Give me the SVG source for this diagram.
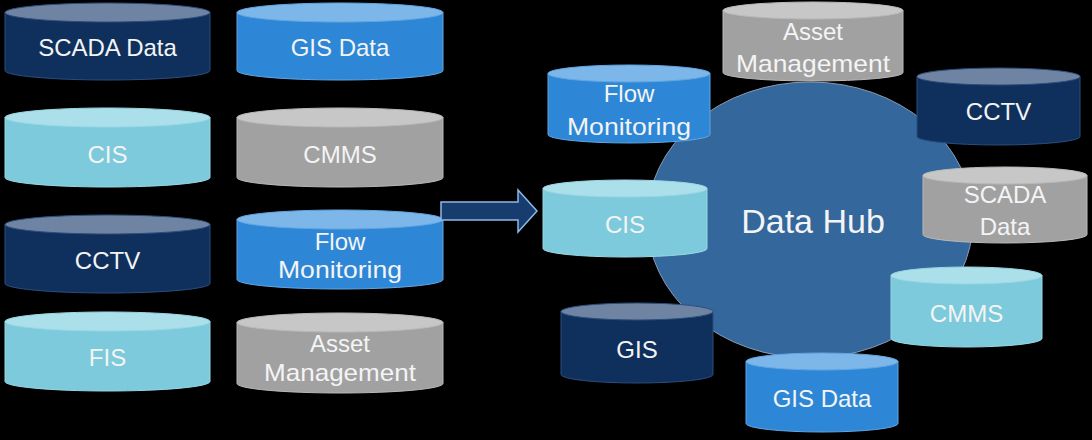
<svg xmlns="http://www.w3.org/2000/svg" width="1092" height="440" viewBox="0 0 1092 440">
<style>
.navy .b{fill:#0f305c;stroke:#2b4e7e;stroke-width:1}
.navy .t{fill:#6f84a3;stroke:#2b4e7e;stroke-width:1}
.blue .b{fill:#2d87d6;stroke:#62a6e2;stroke-width:1}
.blue .t{fill:#7db7ea;stroke:#62a6e2;stroke-width:1}
.cyan .b{fill:#7ccadb;stroke:#9ad8e5;stroke-width:1}
.cyan .t{fill:#abdfea;stroke:#9ad8e5;stroke-width:1}
.gray .b{fill:#a1a1a1;stroke:#b9b9b9;stroke-width:1}
.gray .t{fill:#c7c7c7;stroke:#b9b9b9;stroke-width:1}
text{font-family:"Liberation Sans",Arial,sans-serif;font-size:24px;fill:#f4f4f4;text-anchor:middle}
.hubtxt{font-size:34px}
</style>
<rect x="0" y="0" width="1092" height="440" fill="#000"/>

<g id="hub">
<ellipse cx="810" cy="220" rx="163" ry="138" fill="#34679c" stroke="#8a9bb0" stroke-width="1"/>
<text class="hubtxt" x="813" y="233">Data Hub</text>
</g>

<!-- left side -->
<g id="l-scada" class="navy">
<path class="b" d="M5,12.5 V70.5 A102.5,9.5 0 0 0 210,70.5 V12.5 Z"/>
<ellipse class="t" cx="107.5" cy="12.5" rx="102.5" ry="9.5"/>
<text x="107.5" y="56">SCADA Data</text>
</g>
<g id="l-gisdata" class="blue">
<path class="b" d="M237,12.5 V70.5 A103,9.5 0 0 0 443,70.5 V12.5 Z"/>
<ellipse class="t" cx="340" cy="12.5" rx="103" ry="9.5"/>
<text x="340" y="56">GIS Data</text>
</g>
<g id="l-cis" class="cyan">
<path class="b" d="M5,117.5 V177.5 A102.5,9.5 0 0 0 210,177.5 V117.5 Z"/>
<ellipse class="t" cx="107.5" cy="117.5" rx="102.5" ry="9.5"/>
<text x="107.5" y="163">CIS</text>
</g>
<g id="l-cmms" class="gray">
<path class="b" d="M237,117.5 V177.5 A103,9.5 0 0 0 443,177.5 V117.5 Z"/>
<ellipse class="t" cx="340" cy="117.5" rx="103" ry="9.5"/>
<text x="340" y="163">CMMS</text>
</g>
<g id="l-cctv" class="navy">
<path class="b" d="M5,224.5 V283.5 A102.5,9.5 0 0 0 210,283.5 V224.5 Z"/>
<ellipse class="t" cx="107.5" cy="224.5" rx="102.5" ry="9.5"/>
<text x="107.5" y="269">CCTV</text>
</g>
<g id="l-flow" class="blue">
<path class="b" d="M237,219.5 V279.5 A103,9.5 0 0 0 443,279.5 V219.5 Z"/>
<ellipse class="t" cx="340" cy="219.5" rx="103" ry="9.5"/>
<text x="340" y="250">Flow</text>
<text x="340" y="278" textLength="124" lengthAdjust="spacingAndGlyphs">Monitoring</text>
</g>
<g id="l-fis" class="cyan">
<path class="b" d="M5,321.5 V381.5 A102.5,9.5 0 0 0 210,381.5 V321.5 Z"/>
<ellipse class="t" cx="107.5" cy="321.5" rx="102.5" ry="9.5"/>
<text x="107.5" y="366">FIS</text>
</g>
<g id="l-asset" class="gray">
<path class="b" d="M237,322.5 V383.5 A103,9.5 0 0 0 443,383.5 V322.5 Z"/>
<ellipse class="t" cx="340" cy="322.5" rx="103" ry="9.5"/>
<text x="340" y="352">Asset</text>
<text x="340" y="381" textLength="152" lengthAdjust="spacingAndGlyphs">Management</text>
</g>

<!-- right side -->
<g id="r-asset" class="gray">
<path class="b" d="M723,10.5 V72.5 A90,8.5 0 0 0 903,72.5 V10.5 Z"/>
<ellipse class="t" cx="813" cy="10.5" rx="90" ry="8.5"/>
<text x="813" y="40">Asset</text>
<text x="813" y="72" textLength="154" lengthAdjust="spacingAndGlyphs">Management</text>
</g>
<g id="r-cctv" class="navy">
<path class="b" d="M917,76.5 V136.5 A81.5,8.5 0 0 0 1080,136.5 V76.5 Z"/>
<ellipse class="t" cx="998.5" cy="76.5" rx="81.5" ry="8.5"/>
<text x="998.5" y="120">CCTV</text>
</g>
<g id="r-scada" class="gray">
<path class="b" d="M923,175.5 V234.5 A82,8.5 0 0 0 1087,234.5 V175.5 Z"/>
<ellipse class="t" cx="1005" cy="175.5" rx="82" ry="8.5"/>
<text x="1005" y="203">SCADA</text>
<text x="1005" y="235">Data</text>
</g>
<g id="r-flow" class="blue">
<path class="b" d="M548,73.5 V134.5 A81,8.5 0 0 0 710,134.5 V73.5 Z"/>
<ellipse class="t" cx="629" cy="73.5" rx="81" ry="8.5"/>
<text x="629" y="102">Flow</text>
<text x="629" y="135" textLength="124" lengthAdjust="spacingAndGlyphs">Monitoring</text>
</g>
<g id="r-cis" class="cyan">
<path class="b" d="M543,188.5 V248.5 A82,8.5 0 0 0 707,248.5 V188.5 Z"/>
<ellipse class="t" cx="625" cy="188.5" rx="82" ry="8.5"/>
<text x="625" y="233">CIS</text>
</g>
<g id="r-gis" class="navy">
<path class="b" d="M561,311.5 V374.5 A76,8.5 0 0 0 713,374.5 V311.5 Z"/>
<ellipse class="t" cx="637" cy="311.5" rx="76" ry="8.5"/>
<text x="637" y="358">GIS</text>
</g>
<g id="r-gisdata" class="blue">
<path class="b" d="M746,361.5 V423.5 A76,8.5 0 0 0 898,423.5 V361.5 Z"/>
<ellipse class="t" cx="822" cy="361.5" rx="76" ry="8.5"/>
<text x="822" y="407">GIS Data</text>
</g>
<g id="r-cmms" class="cyan">
<path class="b" d="M891,275.5 V338.5 A75.5,8.5 0 0 0 1042,338.5 V275.5 Z"/>
<ellipse class="t" cx="966.5" cy="275.5" rx="75.5" ry="8.5"/>
<text x="966.5" y="322">CMMS</text>
</g>

<g id="connectors">
<polygon points="441,202 518,202 518,190 537,211 518,232 518,220 441,220" fill="#173d6e" stroke="#8fb8e6" stroke-width="1.5"/>
</g>
</svg>
